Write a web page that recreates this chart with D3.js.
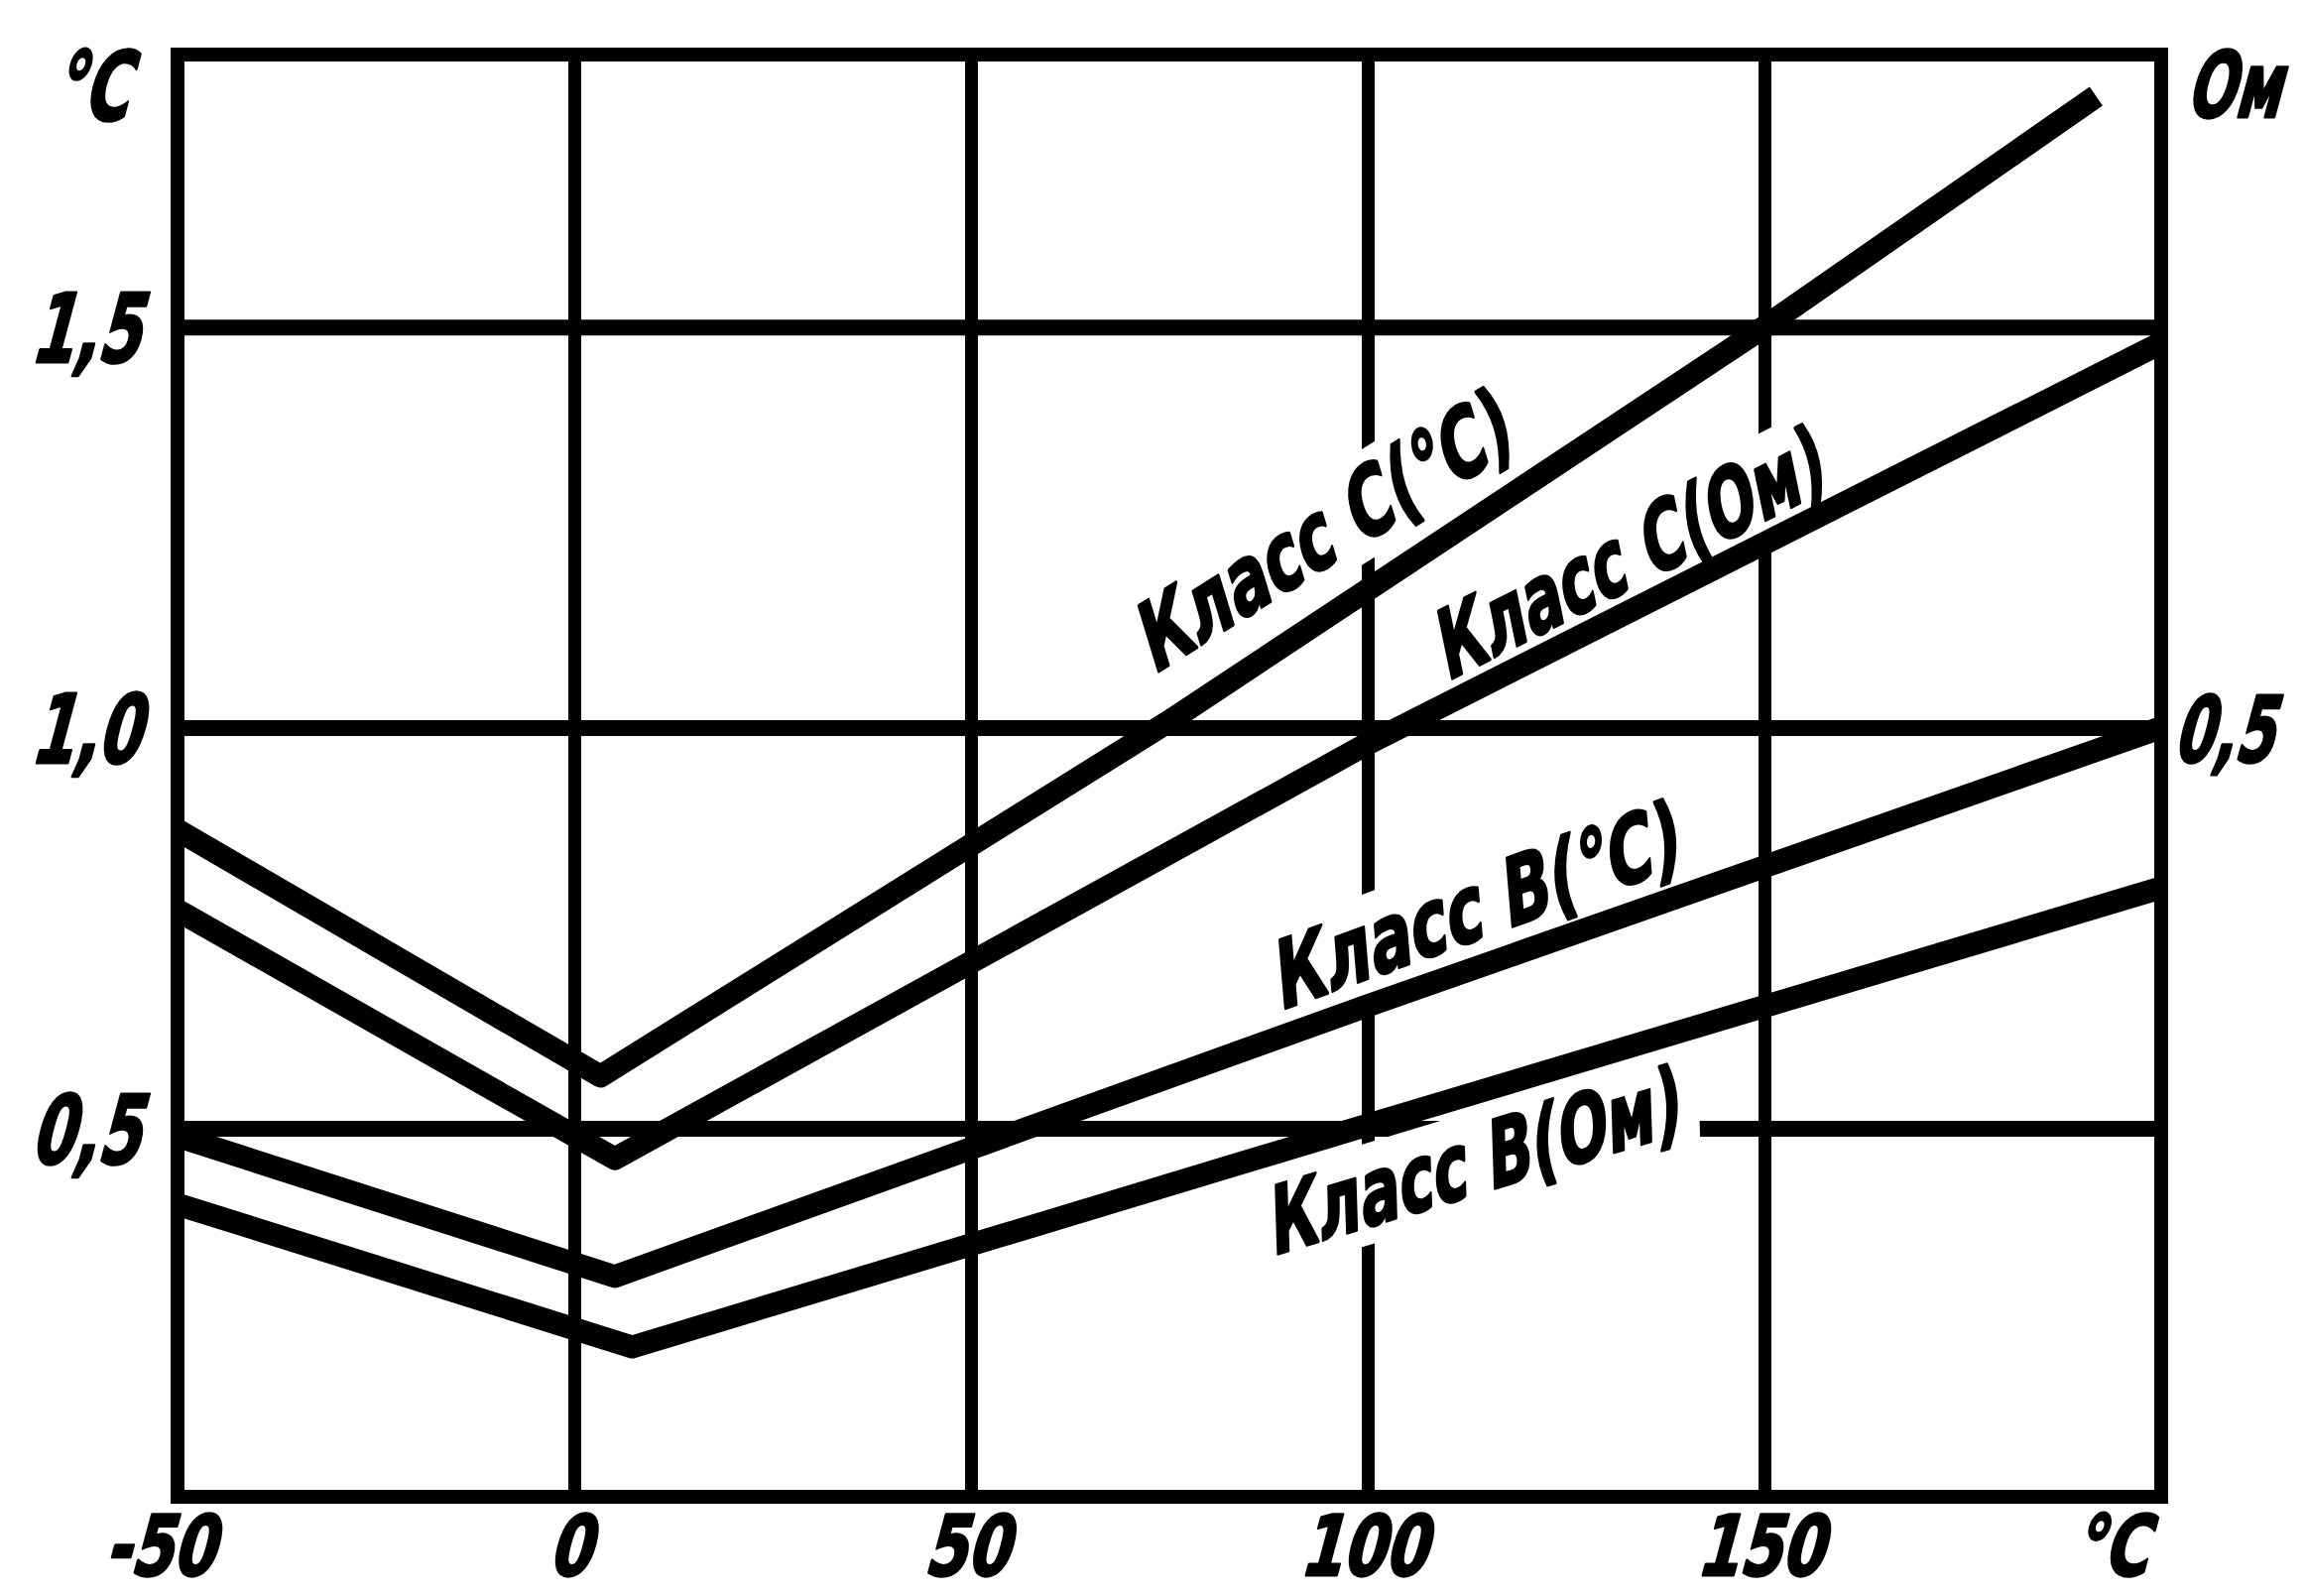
<!DOCTYPE html>
<html>
<head>
<meta charset="utf-8">
<script src="https://cdn.jsdelivr.net/npm/d3@7"></script>
<style>
  html, body { margin: 0; padding: 0; background: #fff; }
  svg { display: block; background: #fff; }
  .grid path { display: none; }
  .grid line { stroke: #000; }
  text {
    font-family: "DejaVu Sans", sans-serif;
    font-weight: bold;
    fill: #000;
    stroke: #000;
    stroke-width: 3;
    stroke-linejoin: round;
  }
</style>
</head>
<body>
<div id="chart"></div>
<script>
// шкала температуры, °C
var xTicks = [-50, 0, 50, 100, 150, 200];
var xTickLabels = ["-50", "0", "50", "100", "150", "°C"];
// левая шкала, °C
var yTicks = [0.5, 1.0, 1.5];
var yTickLabels = ["0,5", "1,0", "1,5"];
// правая шкала, Ом
var yOhmTicks = [0.5];
var yOhmTickLabels = ["0,5"];

// допуски: [t, значение по левой шкале]
var classC_degC = [[-50, 0.872], [3.3, 0.565], [75, 1.008], [150, 1.50], [191.8, 1.788]];
var classC_ohm  = [[-50, 0.772], [5.1, 0.462], [100, 0.98], [200, 1.48]];
var classB_degC = [[-50, 0.49], [5.1, 0.315], [100, 0.653], [200, 1.0]];
var classB_ohm  = [[-50, 0.405], [7.3, 0.227], [98.6, 0.50], [200, 0.80]];

var seriesNames = ["Класс C(°C)", "Класс C(Ом)", "Класс B(°C)", "Класс B(Ом)"];
// начало подписи, [t, значение]
var labelAnchors = [[73, 1.066], [110, 1.058], [88.9, 0.647], [88, 0.341]];

var width = 2325, height = 1609;
var x = d3.scaleLinear().domain([-50, 200]).range([179, 2179]);
var y = d3.scaleLinear().domain([0.04, 1.84]).range([1509, 55]);
var yOhm = d3.scaleLinear().domain([0.02, 0.92]).range([1509, 55]);

var x0 = x.range()[0], x1 = x.range()[1];
var yTop = y.range()[1], yBot = y.range()[0];
var plotW = x1 - x0, plotH = yBot - yTop;

var svg = d3.select("#chart").append("svg")
    .attr("width", width)
    .attr("height", height);

// наклонный чертёжный шрифт
function gost(sx) {
  return "skewX(-15) scale(" + sx + ",1)";
}

// сетка и подписи оси X
var gx = svg.append("g")
    .attr("class", "grid x-grid")
    .attr("transform", "translate(0," + yBot + ")")
    .call(d3.axisBottom(x)
        .tickValues(xTicks)
        .tickSize(-plotH)
        .tickSizeOuter(0)
        .tickFormat(function (d, i) { return xTickLabels[i]; }));
gx.selectAll("line").attr("stroke-width", 13);
gx.selectAll("text")
    .attr("y", null).attr("dy", null)
    .attr("font-size", 84)
    .attr("text-anchor", function (d) { return d < 0 || d === 200 ? "end" : "middle"; })
    .attr("transform", function (d) {
      var dx = d < 0 ? 36 : (d === 200 ? -15 : -6);
      return "translate(" + dx + ",79) " + gost(0.73);
    });

// сетка и подписи левой оси
var gy = svg.append("g")
    .attr("class", "grid y-grid")
    .attr("transform", "translate(" + x0 + ",0)")
    .call(d3.axisLeft(y)
        .tickValues(yTicks)
        .tickSize(-plotW)
        .tickSizeOuter(0)
        .tickFormat(function (d, i) { return yTickLabels[i]; }));
gy.selectAll("line").attr("stroke-width", 16);
gy.selectAll("text")
    .attr("x", null).attr("dy", null)
    .attr("font-size", 96)
    .attr("text-anchor", "end")
    .attr("transform", "translate(-39,35) " + gost(0.65));

// правая ось, Ом
var gr = svg.append("g")
    .attr("class", "grid y-ohm")
    .attr("transform", "translate(" + x1 + ",0)")
    .call(d3.axisRight(yOhm)
        .tickValues(yOhmTicks)
        .tickSize(0)
        .tickFormat(function (d, i) { return yOhmTickLabels[i]; }));
gr.selectAll("text")
    .attr("x", null).attr("dy", null)
    .attr("font-size", 92)
    .attr("text-anchor", "start")
    .attr("transform", "translate(11,34) " + gost(0.62));

var bgLayer = svg.append("g").attr("class", "label-bg");
var lineLayer = svg.append("g").attr("class", "lines");
var frameLayer = svg.append("g").attr("class", "frame");
var textLayer = svg.append("g").attr("class", "labels");

// линии допусков
var line = d3.line()
    .x(function (d) { return x(d[0]); })
    .y(function (d) { return y(d[1]); });

var series = [classC_degC, classC_ohm, classB_degC, classB_ohm];

lineLayer.selectAll("path")
    .data(series)
    .enter().append("path")
    .attr("d", line)
    .attr("fill", "none")
    .attr("stroke", "#000")
    .attr("stroke-width", 23)
    .attr("stroke-linejoin", "round")
    .attr("stroke-linecap", "butt");

// рамка
frameLayer.append("rect")
    .attr("x", x0).attr("y", yTop)
    .attr("width", plotW).attr("height", plotH)
    .attr("fill", "none")
    .attr("stroke", "#000")
    .attr("stroke-width", 14);

// единицы
textLayer.append("text")
    .attr("font-size", 96)
    .attr("text-anchor", "end")
    .attr("transform", "translate(" + (x0 - 51) + "," + (yTop + 66) + ") " + gost(0.65))
    .text("°C");
textLayer.append("text")
    .attr("font-size", 92)
    .attr("text-anchor", "start")
    .attr("transform", "translate(" + (x1 + 24) + "," + (yTop + 63) + ") " + gost(0.62))
    .text("Ом");

// подписи вдоль линий, с белой подложкой (разрывы сетки)
var labelLen = 432;
seriesNames.forEach(function (name, i) {
  var a = labelAnchors[i], pts = series[i];
  var k = d3.bisector(function (d) { return d[0]; }).right(pts, a[0]);
  var p0 = pts[k - 1], p1 = pts[k];
  var ang = Math.atan2(y(p1[1]) - y(p0[1]), x(p1[0]) - x(p0[0])) * 180 / Math.PI;
  var tr = "translate(" + x(a[0]) + "," + y(a[1]) + ") rotate(" + ang + ")";

  var t = textLayer.append("g").attr("transform", tr)
      .append("text")
      .attr("font-size", 92)
      .text(name);
  var sx = labelLen / t.node().getComputedTextLength();
  t.attr("transform", gost(sx));

  var bb = t.node().getBBox();
  var padX = 18 / sx, padY = -4;
  bgLayer.append("g").attr("transform", tr)
      .append("rect")
      .attr("transform", gost(sx))
      .attr("x", bb.x - padX)
      .attr("y", bb.y - padY)
      .attr("width", bb.width + 2 * padX)
      .attr("height", bb.height + 2 * padY)
      .attr("fill", "#fff");
});
</script>
</body>
</html>
